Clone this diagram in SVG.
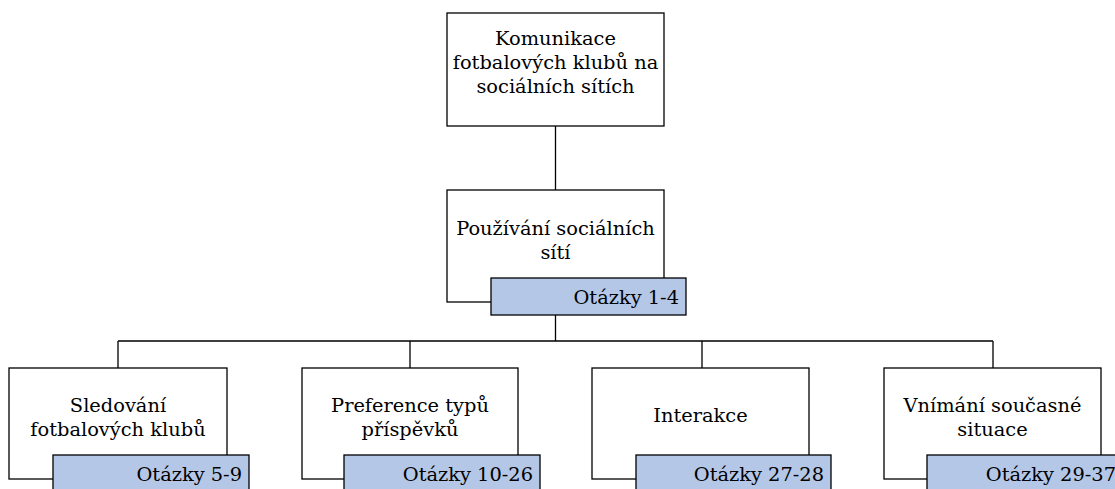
<svg xmlns="http://www.w3.org/2000/svg" width="1115" height="489" viewBox="0 0 1115 489">
<style>
.box{fill:#fff;stroke:#000;stroke-width:1.3}
.lab{fill:#b4c7e7;stroke:#000;stroke-width:1.3}
.t{text-anchor:middle}
.r{text-anchor:end}
.c{fill:none;stroke:#000;stroke-width:1.3}
text{font-family:"DejaVu Serif",serif;font-size:19.4px}
</style>
<rect width="1115" height="489" fill="#fff"/>
<g id="connectors">
<path class="c" d="M555.5 126V190M555.5 315V341M118 341H993M118 341V368M410 341V368M702 341V368M993 341V368"/>
</g>
<g fill="#000">
<g id="n-root">
<rect class="box" x="447" y="13" width="217" height="113"/>
<text class="t" x="555.5" y="45">Komunikace</text>
<text class="t" x="555.5" y="69">fotbalových klubů na</text>
<text class="t" x="555.5" y="92.5">sociálních sítích</text>
</g>
<g id="n-pouzivani">
<rect class="box" x="447" y="190" width="217" height="112"/>
<text class="t" x="555.5" y="235">Používání sociálních</text>
<text class="t" x="555.5" y="258.5">sítí</text>
<rect class="lab" x="491" y="278" width="195" height="37"/>
<text class="r" x="679" y="303.5">Otázky 1-4</text>
</g>
<g id="n-sledovani">
<rect class="box" x="9" y="368" width="218" height="111"/>
<text class="t" x="118" y="412">Sledování</text>
<text class="t" x="118" y="435.5">fotbalových klubů</text>
<rect class="lab" x="53" y="455" width="196" height="37"/>
<text class="r" x="242" y="481">Otázky 5-9</text>
</g>
<g id="n-preference">
<rect class="box" x="302" y="368" width="216" height="111"/>
<text class="t" x="410" y="412">Preference typů</text>
<text class="t" x="410" y="435.5">příspěvků</text>
<rect class="lab" x="344" y="455" width="196" height="37"/>
<text class="r" x="533" y="481">Otázky 10-26</text>
</g>
<g id="n-interakce">
<rect class="box" x="592" y="368" width="217" height="111"/>
<text class="t" x="700.5" y="422">Interakce</text>
<rect class="lab" x="636" y="455" width="195" height="37"/>
<text class="r" x="824" y="481">Otázky 27-28</text>
</g>
<g id="n-vnimani">
<rect class="box" x="884" y="368" width="217" height="111"/>
<text class="t" x="992.5" y="412">Vnímání současné</text>
<text class="t" x="992.5" y="435.5">situace</text>
<rect class="lab" x="927" y="455" width="196" height="37"/>
<text class="r" x="1116" y="481">Otázky 29-37</text>
</g>
</g>
</svg>
